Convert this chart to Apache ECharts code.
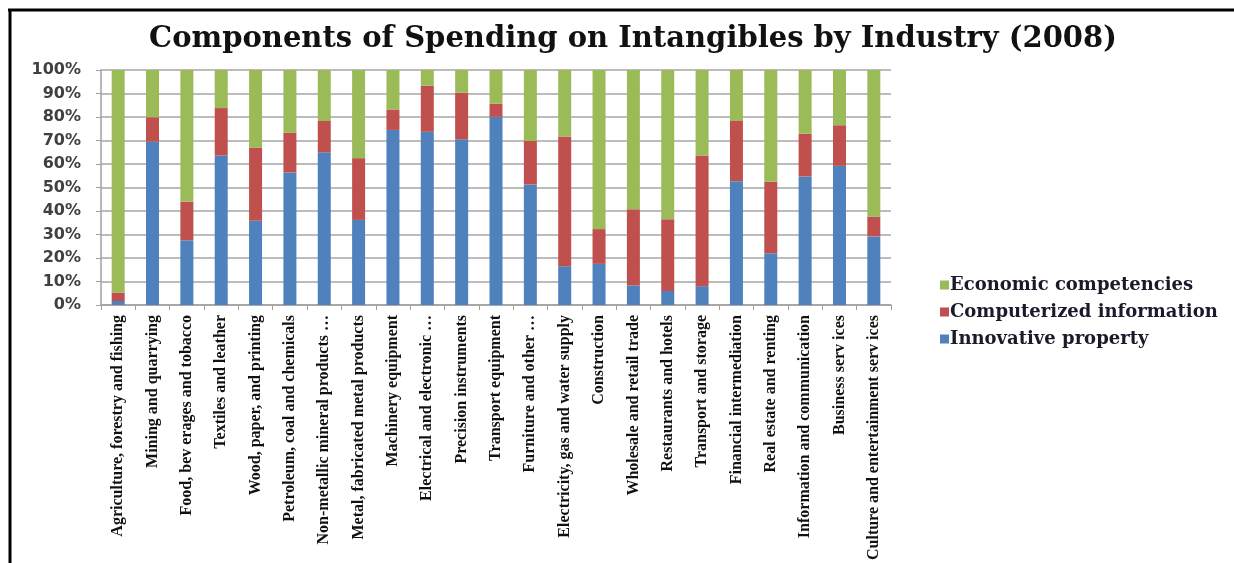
<!DOCTYPE html>
<html>
<head>
<meta charset="utf-8">
<script src="https://cdn.jsdelivr.net/npm/echarts@6/dist/echarts.min.js"></script>
<style>
  html, body { margin: 0; padding: 0; background: #fff; }
  #main { width: 1234px; height: 563px; }
</style>
</head>
<body>
<div id="main"></div>
<script>
// 行业名称
var industries = [
    'Agriculture, forestry and fishing', 'Mining and quarrying', 'Food, bev erages and tobacco',
    'Textiles and leather', 'Wood, paper, and printing', 'Petroleum, coal and chemicals',
    'Non-metallic mineral products …', 'Metal, fabricated metal products', 'Machinery equipment',
    'Electrical and electronic …', 'Precision instruments', 'Transport equipment',
    'Furniture and other …', 'Electricity, gas and water supply', 'Construction',
    'Wholesale and retail trade', 'Restaurants and hotels', 'Transport and storage',
    'Financial intermediation', 'Real estate and renting', 'Information and communication',
    'Business serv ices', 'Culture and entertainment serv ices'
];

// 各组成部分占比(%)
var innovative   = [1.7, 69.5, 27.6, 63.6, 35.9, 56.4, 65.0, 36.2, 74.5, 73.7, 70.5, 80.1,
                    51.3, 16.5, 17.5, 8.3, 6.0, 8.0, 52.7, 22.0, 54.7, 59.2, 29.2];
var computerized = [3.6, 10.4, 16.4, 20.2, 31.1, 17.0, 13.3, 26.3, 8.7, 19.6, 19.8, 5.6,
                    18.5, 55.2, 14.8, 32.4, 30.5, 55.6, 25.6, 30.4, 18.2, 17.3, 8.4];
var economic     = [94.7, 20.1, 56.0, 16.2, 33.0, 26.6, 21.7, 37.5, 16.8, 6.7, 9.7, 14.3,
                    30.2, 28.3, 67.7, 59.3, 63.5, 36.4, 21.7, 47.6, 27.1, 23.5, 62.4];

var seriesNames = ['Innovative property', 'Computerized information', 'Economic competencies'];
var seriesColors = ['#4F81BD', '#C0504D', '#9BBB59'];

var myChart = echarts.init(document.getElementById('main'));

var option = {
    backgroundColor: '#fff',
    animation: false,
    title: {
        text: 'Components of Spending on Intangibles by Industry (2008)',
        left: 628,
        textAlign: 'center',
        top: 20,
        textStyle: {
            fontFamily: 'DejaVu Serif',
            fontWeight: 'bold',
            fontSize: 29,
            color: '#111'
        }
    },
    legend: {
        orient: 'vertical',
        left: 935,
        top: 271,
        itemWidth: 9,
        itemHeight: 9,
        itemGap: 9,
        icon: 'rect',
        data: [seriesNames[2], seriesNames[1], seriesNames[0]],
        textStyle: {
            fontFamily: 'DejaVu Serif',
            fontWeight: 'bold',
            fontSize: 18,
            color: '#1a1a2a',
            padding: [0, 0, 0, -4]
        }
    },
    grid: {
        left: 101,
        right: 343,
        top: 70,
        bottom: 255,
        containLabel: false
    },
    xAxis: {
        type: 'category',
        data: industries,
        axisLine: { lineStyle: { color: '#a0a0a0', width: 1.5 } },
        axisTick: { show: true, length: 5, lineStyle: { color: '#a0a0a0' } },
        axisLabel: {
            rotate: 90,
            interval: 0,
            margin: 10,
            fontFamily: 'Liberation Serif',
            fontWeight: 'bold',
            fontSize: 16,
            color: '#111'
        }
    },
    yAxis: {
        type: 'value',
        min: 0,
        max: 100,
        interval: 10,
        axisLine: { show: true, lineStyle: { color: '#a0a0a0', width: 1.5 } },
        axisTick: { show: true, length: 5, lineStyle: { color: '#a0a0a0' } },
        splitLine: { lineStyle: { color: '#a6a6a6', width: 1.5 } },
        axisLabel: {
            formatter: '{value}%',
            margin: 20,
            fontFamily: 'DejaVu Sans',
            fontWeight: 'bold',
            fontSize: 16,
            color: '#404040'
        }
    },
    series: [
        { name: seriesNames[0], type: 'bar', stack: 'total', barWidth: 13, data: innovative, itemStyle: { color: seriesColors[0] } },
        { name: seriesNames[1], type: 'bar', stack: 'total', barWidth: 13, data: computerized, itemStyle: { color: seriesColors[1] } },
        { name: seriesNames[2], type: 'bar', stack: 'total', barWidth: 13, data: economic, itemStyle: { color: seriesColors[2] } }
    ],
    graphic: [
        { type: 'line', shape: { x1: 8, y1: 10, x2: 1234, y2: 10 }, style: { stroke: '#000', lineWidth: 3 } },
        { type: 'line', shape: { x1: 10, y1: 9, x2: 10, y2: 563 }, style: { stroke: '#000', lineWidth: 3 } }
    ]
};

myChart.setOption(option);
</script>
</body>
</html>
